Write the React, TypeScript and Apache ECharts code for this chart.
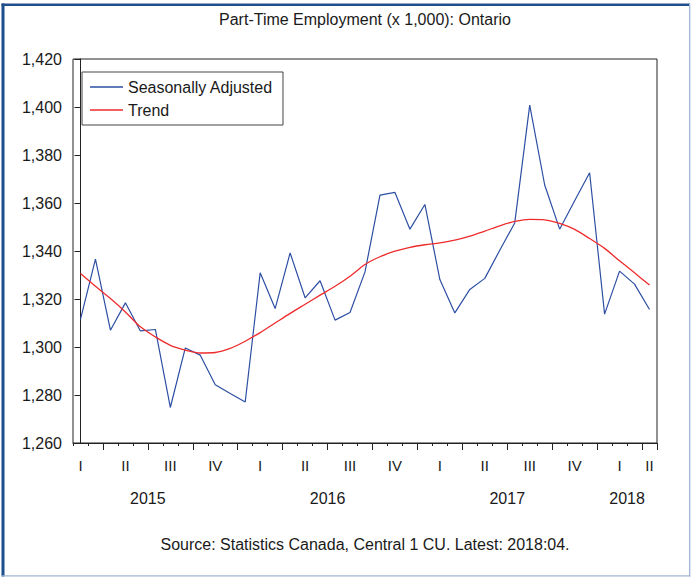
import React, { useEffect, useRef } from 'react';
import * as echarts from 'echarts';

const months: string[] = [
  '2015-02', '2015-03', '2015-04', '2015-05', '2015-06', '2015-07', '2015-08', '2015-09', '2015-10', '2015-11', '2015-12',
  '2016-01', '2016-02', '2016-03', '2016-04', '2016-05', '2016-06', '2016-07', '2016-08', '2016-09', '2016-10', '2016-11', '2016-12',
  '2017-01', '2017-02', '2017-03', '2017-04', '2017-05', '2017-06', '2017-07', '2017-08', '2017-09', '2017-10', '2017-11', '2017-12',
  '2018-01', '2018-02', '2018-03', '2018-04',
];

const seasonallyAdjusted: number[] = [
  1311.5, 1336.6, 1307.0, 1318.4, 1306.7, 1307.3, 1274.8, 1299.6, 1296.6, 1284.3, 1280.6,
  1277.1, 1330.9, 1316.0, 1339.2, 1320.5, 1327.6, 1311.2, 1314.4, 1331.3, 1363.3, 1364.4, 1349.1,
  1359.4, 1328.1, 1314.2, 1324.0, 1328.6, 1340.3, 1351.7, 1400.8, 1367.5, 1349.1, 1360.9, 1372.6,
  1313.7, 1331.6, 1326.2, 1315.6,
];

const trend: number[] = [
  1330.6, 1325.3, 1320.2, 1314.6, 1308.4, 1304.2, 1300.7, 1298.7, 1297.5, 1297.7, 1299.4,
  1302.4, 1306.0, 1310.0, 1314.0, 1317.8, 1321.6, 1325.3, 1329.5, 1334.4, 1337.6, 1339.9, 1341.5,
  1342.6, 1343.4, 1344.5, 1346.2, 1348.3, 1350.5, 1352.3, 1353.2, 1353.0, 1351.5, 1349.0, 1345.2,
  1341.1, 1335.9, 1330.9, 1325.8,
];

const quarterLabels: string[] = ['I', 'II', 'III', 'IV'];
const yearLabels: string[] = ['2015', '2016', '2017', '2018'];
const yTicks = { min: 1260, max: 1420, interval: 20 };

const titleText = 'Part-Time Employment (x 1,000): Ontario';
const sourceText = 'Source: Statistics Canada, Central 1 CU. Latest: 2018:04.';
const seriesNames = ['Seasonally Adjusted', 'Trend'];

const FONT = '"Liberation Sans", Arial, Helvetica, sans-serif';
const TEXT_COLOR = '#1a1a1a';

const monthOf = (s: string) => parseInt(s.slice(5, 7), 10);
const yearOf = (s: string) => s.slice(0, 4);

// year label centre (in category index units)
const yearCenters = yearLabels.map((y) => {
  const idxs = months.map((m, i) => (yearOf(m) === y ? i : -999)).filter((i) => i >= 0);
  const first = idxs[0];
  const last = idxs[idxs.length - 1];
  const janIndex = first - (monthOf(months[first]) - 1);
  return { label: y, center: Math.min(janIndex + 5.5, (janIndex + last) / 2) };
});

export default function App() {
  const ref = useRef<HTMLDivElement>(null);

  useEffect(() => {
    document.body.style.margin = '0';
    if (!ref.current) return;
    const chart = echarts.init(ref.current, undefined, { renderer: 'svg' });

    const gridLeft = 73;
    const gridRight = 34;
    const gridTop = 59;
    const gridBottom = 134;
    const plotCenterX = gridLeft + (691 - gridLeft - gridRight) / 2;

    const option: any = {
      animation: false,
      backgroundColor: '#ffffff',
      textStyle: { fontFamily: FONT },
      grid: {
        left: gridLeft,
        right: gridRight,
        top: gridTop,
        bottom: gridBottom,
        show: true,
        borderColor: '#222',
        borderWidth: 1,
        containLabel: false,
      },
      legend: {
        orient: 'vertical',
        left: 82,
        top: 72,
        data: seriesNames,
        icon: 'rect',
        itemWidth: 33,
        itemHeight: 1.3,
        itemGap: 7,
        padding: [7, 10, 7, 8],
        borderColor: '#444',
        borderWidth: 1,
        backgroundColor: '#fff',
        textStyle: { fontSize: 16, color: TEXT_COLOR, fontFamily: FONT, lineHeight: 16 },
      },
      xAxis: [
        {
          type: 'category',
          data: months,
          boundaryGap: true,
          position: 'bottom',
          axisLine: { show: true, lineStyle: { color: '#222', width: 1 } },
          axisTick: { show: true, interval: 0, length: 3, lineStyle: { color: '#222' } },
          axisLabel: {
            show: true,
            interval: (index: number, value: string) => {
              const m = monthOf(value);
              return m % 3 === 2 || index === months.length - 1;
            },
            formatter: (value: string) => quarterLabels[Math.floor((monthOf(value) - 1) / 3)],
            fontSize: 15,
            color: TEXT_COLOR,
            fontFamily: FONT,
            margin: 15,
          },
          splitLine: { show: false },
        },
        {
          type: 'category',
          data: months,
          boundaryGap: true,
          position: 'bottom',
          axisLine: { show: false },
          axisTick: {
            show: true,
            length: 7,
            interval: (index: number, value: string) => (monthOf(value) - 1) % 3 === 0,
            lineStyle: { color: '#222' },
          },
          axisLabel: { show: false },
          splitLine: { show: false },
        },
        {
          type: 'value',
          min: -0.5,
          max: months.length - 0.5,
          interval: 0.5,
          position: 'bottom',
          axisLine: { show: false },
          axisTick: { show: false },
          splitLine: { show: false },
          axisLabel: {
            show: true,
            showMinLabel: true,
            showMaxLabel: true,
            margin: 47,
            fontSize: 16,
            color: TEXT_COLOR,
            fontFamily: FONT,
            formatter: (v: number) => {
              const hit = yearCenters.find((c) => Math.abs(c.center - v) < 0.01);
              return hit ? hit.label : '';
            },
          },
        },
      ],
      yAxis: {
        type: 'value',
        min: yTicks.min,
        max: yTicks.max,
        interval: yTicks.interval,
        axisLine: { show: true, lineStyle: { color: '#222', width: 1 } },
        axisTick: { show: true, length: 6, lineStyle: { color: '#222' } },
        axisLabel: {
          fontSize: 16,
          color: TEXT_COLOR,
          fontFamily: FONT,
          margin: 11,
          formatter: (v: number) => v.toLocaleString('en-US'),
        },
        splitLine: { show: false },
      },
      series: [
        {
          name: seriesNames[0],
          type: 'line',
          xAxisIndex: 0,
          data: seasonallyAdjusted,
          symbol: 'none',
          lineStyle: { color: '#2D4FA3', width: 1.2 },
          itemStyle: { color: '#2D4FA3' },
          z: 3,
        },
        {
          name: seriesNames[1],
          type: 'line',
          xAxisIndex: 0,
          data: trend,
          symbol: 'none',
          smooth: 0.3,
          lineStyle: { color: '#EE2B2B', width: 1.3 },
          itemStyle: { color: '#EE2B2B' },
          z: 4,
        },
      ],
      graphic: [
        {
          type: 'text',
          x: plotCenterX,
          y: 19,
          style: {
            text: titleText,
            align: 'center',
            verticalAlign: 'middle',
            font: `16px ${FONT}`,
            fill: TEXT_COLOR,
          },
        },
        {
          type: 'text',
          x: plotCenterX,
          y: 544,
          style: {
            text: sourceText,
            align: 'center',
            verticalAlign: 'middle',
            font: `16px ${FONT}`,
            fill: TEXT_COLOR,
          },
        },
        { type: 'rect', shape: { x: 1.5, y: 3.5, width: 688.5, height: 2.5 }, style: { fill: '#1F4E8C' }, silent: true },
        { type: 'rect', shape: { x: 1.5, y: 3.5, width: 3, height: 573 }, style: { fill: '#1F4E8C' }, silent: true },
        { type: 'rect', shape: { x: 689, y: 4, width: 1.3, height: 572.5 }, style: { fill: '#9FB6D4' }, silent: true },
        { type: 'rect', shape: { x: 1.5, y: 575.3, width: 688.8, height: 1.3 }, style: { fill: '#9FB6D4' }, silent: true },
      ],
    };

    chart.setOption(option);
    return () => {
      chart.dispose();
    };
  }, []);

  return <div ref={ref} style={{ width: 691, height: 577 }} />;
}
